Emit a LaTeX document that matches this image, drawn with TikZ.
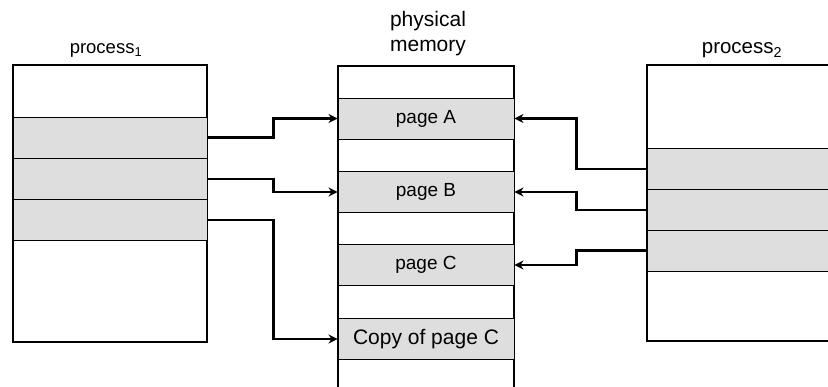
\documentclass[tikz,border=0pt]{standalone}
\usepackage{fontspec}
\setmainfont{Liberation Sans}
\usetikzlibrary{arrows.meta}

\begin{document}
\begin{tikzpicture}[x=1pt, y=-1pt,
    band/.style={draw, line width=0.9pt, fill=black!13, inner sep=0pt, minimum height=41pt},
    link/.style={line width=2.6pt, -{Stealth[length=9pt, width=9pt]}}]
    % Frame
    \useasboundingbox (0,0) rectangle (828,387);
    \clip (0,0) rectangle (828,387);

    % Process 1
    \draw[line width=1.5pt] (13,65) rectangle (207,342);
    \node[band, minimum width=194pt] (p1a) at (110,137.5) {};
    \node[band, minimum width=194pt] (p1b) at (110,179) {};
    \node[band, minimum width=194pt] (p1c) at (110,220) {};
    \node[font=\fontsize{18.5}{22}\selectfont, anchor=base] (p1title) at (106,54) {process\textsubscript{1}};

    % Physical memory
    \draw[line width=1.5pt] (338,387) -- (338,66) -- (514,66) -- (514,387);
    \node[band, minimum width=176pt, font=\fontsize{19}{22}\selectfont] (memA) at (426,118.5) {page A};
    \node[band, minimum width=176pt, font=\fontsize{19}{22}\selectfont] (memB) at (426,192) {page B};
    \node[band, minimum width=176pt, font=\fontsize{19}{22}\selectfont] (memC) at (426,265) {page C};
    \node[band, minimum width=176pt, font=\fontsize{21}{22}\selectfont] (memCopy) at (426,339) {Copy of page C};
    \node[font=\fontsize{21}{25}\selectfont, align=center, anchor=north, inner sep=0pt] (memtitle) at (428,11) {physical\\memory};

    % Process 2
    \draw[line width=1.5pt] (840,65) -- (647,65) -- (647,341) -- (840,341);
    \node[band, minimum width=200pt] (p2a) at (747,169) {};
    \node[band, minimum width=200pt] (p2b) at (747,210) {};
    \node[band, minimum width=200pt] (p2c) at (747,250.5) {};
    \node[font=\fontsize{20.5}{24}\selectfont, anchor=base] (p2title) at (742,54) {process\textsubscript{2}};

    % Page table links
    \draw[link] (p1a.east) -- ++(66,0) |- (memA.west);
    \draw[link] (p1b.east) -- ++(66,0) |- (memB.west);
    \draw[link] (p1c.east) -- ++(66,0) |- (memCopy.west);
    \draw[link] (p2a.west) -- ++(-70,0) |- (memA.east);
    \draw[link] (p2b.west) -- ++(-70,0) |- (memB.east);
    \draw[link] (p2c.west) -- ++(-70,0) |- (memC.east);
\end{tikzpicture}
\end{document}
